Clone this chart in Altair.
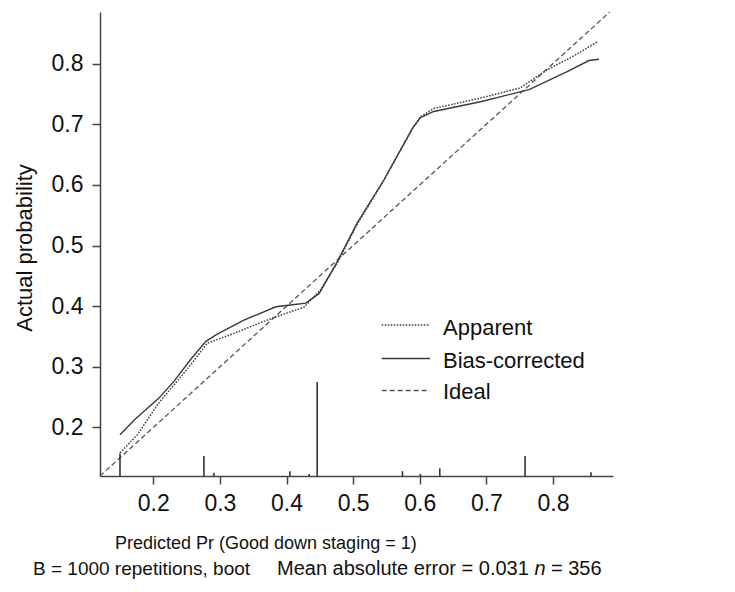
import altair as alt
import pandas as pd

# ---- data ----
bias_x = [0.150, 0.173, 0.208, 0.231, 0.256, 0.279, 0.296, 0.336, 0.384, 0.406, 0.429,
          0.449, 0.476, 0.506, 0.546, 0.589, 0.601, 0.621, 0.691, 0.764, 0.822, 0.854, 0.869]
bias_y = [0.188, 0.214, 0.248, 0.276, 0.312, 0.342, 0.354, 0.377, 0.399, 0.402, 0.405,
          0.421, 0.473, 0.537, 0.608, 0.693, 0.711, 0.721, 0.737, 0.757, 0.787, 0.805, 0.807]

app_x = [0.150, 0.176, 0.208, 0.256, 0.281, 0.316, 0.366, 0.401, 0.426, 0.451, 0.476,
         0.506, 0.546, 0.589, 0.601, 0.621, 0.691, 0.751, 0.790, 0.830, 0.867]
app_y = [0.158, 0.188, 0.240, 0.303, 0.339, 0.353, 0.375, 0.389, 0.398, 0.427, 0.471,
         0.535, 0.607, 0.693, 0.712, 0.726, 0.743, 0.760, 0.789, 0.812, 0.836]

ideal_x = [0.12, 0.885]
ideal_y = [0.12, 0.885]

rug_x = [0.150, 0.276, 0.291, 0.405, 0.434, 0.446, 0.574, 0.601, 0.630, 0.758, 0.857]
rug_h = [0.037, 0.033, 0.0055, 0.008, 0.0035, 0.155, 0.008, 0.0035, 0.0127, 0.033, 0.006]

x_ticks = [0.2, 0.3, 0.4, 0.5, 0.6, 0.7, 0.8]
y_ticks = [0.2, 0.3, 0.4, 0.5, 0.6, 0.7, 0.8]

x_domain = [0.12, 0.89]
y_domain = [0.12, 0.885]

legend_labels = ["Apparent", "Bias-corrected", "Ideal"]
x_title = "Predicted Pr (Good down staging = 1)"
y_title = "Actual probability"
foot_parts = ["B = 1000 repetitions, boot", "Mean absolute error = 0.031", "n", "= 356"]

FONT = "Liberation Sans"

xs = alt.Scale(domain=x_domain, nice=False, zero=False)
ys = alt.Scale(domain=y_domain, nice=False, zero=False)

X_AX = alt.Axis(values=x_ticks, format=".1f", title=None, labelPadding=8)
Y_AX = alt.Axis(values=y_ticks, format=".1f", title=None, labelPadding=9)

bias_df = pd.DataFrame({"x": bias_x, "y": bias_y})
app_df = pd.DataFrame({"x": app_x, "y": app_y})
ideal_df = pd.DataFrame({"x": ideal_x, "y": ideal_y})
rug_df = pd.DataFrame({"x": rug_x, "h": rug_h})

DOT = [1.6, 1.4]
DASH = [5, 3]

ideal = alt.Chart(ideal_df).mark_line(color="#555", strokeWidth=1.3, strokeDash=DASH).encode(
    x=alt.X("x:Q", scale=xs, axis=X_AX), y=alt.Y("y:Q", scale=ys, axis=Y_AX))
app = alt.Chart(app_df).mark_line(color="#444", strokeWidth=1.5, strokeDash=DOT).encode(
    x=alt.X("x:Q", scale=xs), y=alt.Y("y:Q", scale=ys))
bias = alt.Chart(bias_df).mark_line(color="#3a3a3a", strokeWidth=1.4).encode(
    x=alt.X("x:Q", scale=xs), y=alt.Y("y:Q", scale=ys))

rug = alt.Chart(rug_df).transform_calculate(
    base=str(y_domain[0]), top=f"{y_domain[0]} + datum.h"
).mark_rule(color="#333", strokeWidth=1.6).encode(
    x=alt.X("x:Q", scale=xs), y=alt.Y("base:Q", scale=ys), y2="top:Q")

# legend (drawn manually)
leg_rows_y = [313, 346.5, 378.5]
leg_text_y = [323, 356, 387]
leg_styles = [dict(strokeDash=DOT, color="#444", strokeWidth=1.5), dict(color="#3a3a3a", strokeWidth=1.4),
              dict(strokeDash=DASH, color="#555", strokeWidth=1.3)]
legend_layers = []
for i, lab in enumerate(legend_labels):
    d = pd.DataFrame({"label": [lab]})
    legend_layers.append(alt.Chart(d).mark_rule(**leg_styles[i]).encode(
        x=alt.value(281.7), x2=alt.value(330), y=alt.value(leg_rows_y[i])))
    legend_layers.append(alt.Chart(d).mark_text(
        font=FONT, fontSize=22, align="left", baseline="alphabetic", color="#111").encode(
        x=alt.value(343), y=alt.value(leg_text_y[i]), text="label:N"))

def txt(s, x, y, size, angle=0, style="normal", baseline="alphabetic", align="left", font=FONT):
    d = pd.DataFrame({"t": [s]})
    kw = dict(font=font, fontSize=size, align=align, baseline=baseline, color="#111", fontStyle=style)
    if angle:
        kw["angle"] = angle
    return alt.Chart(d).mark_text(**kw).encode(x=alt.value(x), y=alt.value(y), text="t:N")

texts = [
    txt(x_title, 15, 537, 18),
    txt(y_title, -68, 236, 22, angle=270, align="center"),
    txt(foot_parts[0], -67, 563, 19),
    txt(foot_parts[1], 177, 563, 20),
    txt(foot_parts[2], 434.5, 563, 20, style="italic"),
    txt(foot_parts[3], 451, 563, 20),
]

chart = alt.layer(ideal, app, bias, rug, *legend_layers, *texts).properties(
    width=513, height=464,
    autosize=alt.AutoSizeParams(type="none"),
    padding={"left": 92, "top": 4, "right": 110, "bottom": 106},
).configure_view(stroke=None).configure_axis(
    grid=False, domainColor="#444", domainWidth=1.5, tickColor="#444", tickWidth=1.5,
    tickSize=8, labelFont=FONT, labelFontSize=23, labelColor="#111",
)

chart.save("out.html", embed_options={"renderer": "svg", "actions": False})
